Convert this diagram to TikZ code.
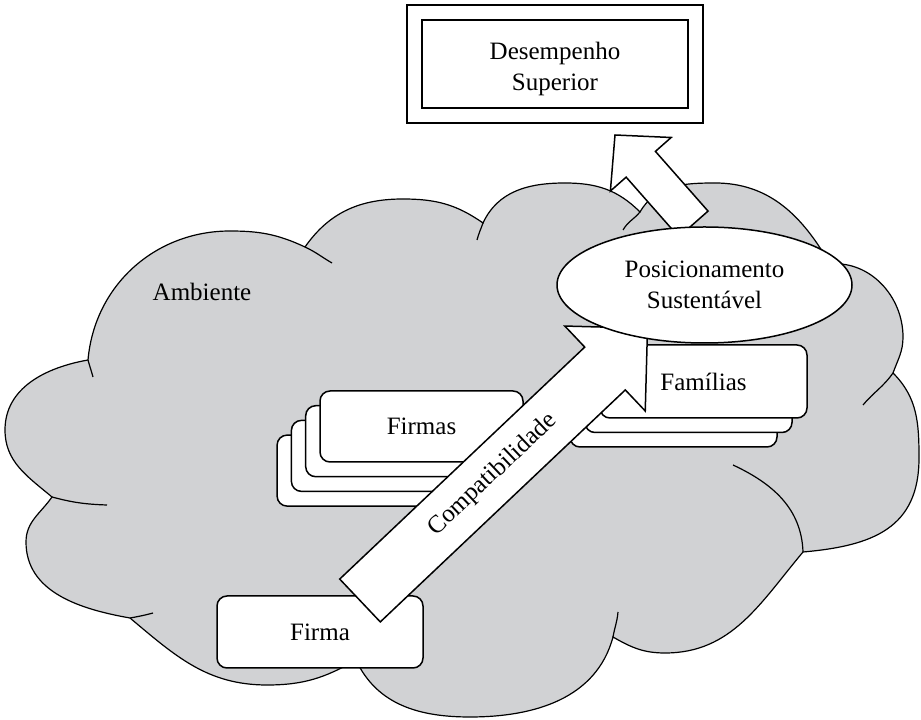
\documentclass[tikz,border=0pt]{standalone}
\usepackage{fontspec}
\setmainfont{Liberation Serif}
\usetikzlibrary{shapes.geometric,calc}

\definecolor{nuvemcinza}{RGB}{209,210,212}

% seta larga: cauda, ponta, meia haste, meia cabeca, comprimento da cabeca
\newcommand{\setalarga}[5]{%
  \coordinate (basecab) at ($(#2)!#5!(#1)$);
  \draw[fill=white, line join=miter] ($(#1)!#3!90:(#2)$) -- ($(basecab)!#3!90:(#2)$)
    -- ($(basecab)!#4!90:(#2)$) -- (#2) -- ($(basecab)!#4!-90:(#2)$)
    -- ($(basecab)!#3!-90:(#2)$) -- ($(#1)!#3!-90:(#2)$) -- cycle;
}

\begin{document}
\begin{tikzpicture}[x=1pt, y=1pt, line width=1.5pt,
    every node/.style={font=\fontsize{25}{31}\selectfont, align=center},
    caixa/.style={draw, fill=white, rounded corners=10pt, inner sep=0pt},
    caixaFirmas/.style={caixa, minimum width=203pt, minimum height=71pt},
    caixaFamilias/.style={caixa, minimum width=207pt, minimum height=73pt},
    caixadupla/.style={draw, double, double distance=13.4pt, line width=1.6pt,
        minimum width=281pt, minimum height=103pt, inner sep=0pt}]
    \useasboundingbox (0,0) rectangle (921,720);

    % nuvem (ambiente)
    \filldraw[fill=nuvemcinza, line width=1.2pt]
      (88,360) to[out=85,in=180] (230,489) to[out=0,in=155] (305,473)
      to[out=55,in=180] (403,521) to[out=0,in=145] (483,497)
      to[out=65,in=180] (565,537) to[out=0,in=135] (640,508)
      to[out=60,in=180] (715,537) to[out=0,in=120] (830,456)
      to[out=5,in=90] (903,383) to[out=-90,in=70] (893,347)
      to[out=-45,in=90] (919,262) to[out=-90,in=5,looseness=1.2] (803,168)
      to[out=-130,in=0] (665,67) to[out=180,in=-30] (613,83)
      to[out=-105,in=0] (470,3) to[out=180,in=-65] (356,60)
      to[out=-150,in=0] (267,35) to[out=180,in=-40] (130,102)
      to[out=170,in=-90] (26,178) to[out=90,in=-125] (52,223)
      to[out=140,in=-90] (5,290) to[out=90,in=190] (88,360) -- cycle;
    \draw[line width=1.2pt]
      (88,360) to[out=-75,in=105] (93,343)
      (305,473) to[out=-25,in=150] (332,457)
      (483,497) to[out=-110,in=75] (477,480)
      (640,508) to[out=-130,in=60] (623,490)
      (893,347) to[out=-125,in=50] (863,315)
      (803,168) to[out=92,in=-25] (733,255)
      (613,83) to[out=80,in=-95] (618,108)
      (130,102) to[out=10,in=195] (153,107)
      (52,223) to[out=-15,in=178] (107,215);
    \node (ambiente) at (202,428) {Ambiente};

    \node[caixadupla] (desempenho) at (555,656) {};
    \node at ([yshift=-5pt]desempenho.center) {Desempenho\\Superior};

    \coordinate (caudaS) at (693.4,496);
    \coordinate (pontaS) at (615,585);
    \setalarga{caudaS}{pontaS}{19.5pt}{40.5pt}{39pt}

    \node[caixaFirmas] (firmas3) at (378.6,249.4) {};
    \node[caixaFirmas] (firmas2) at (392.9,264.1) {};
    \node[caixaFirmas] (firmas1) at (407.2,278.8) {};
    \node[caixaFirmas] (firmas) at (421.5,293.5) {Firmas};

    \node[caixaFamilias] (familias2) at (673.5,309.5) {};
    \node[caixaFamilias] (familias1) at (688.5,324) {};
    \node[caixaFamilias] (familias) at (703.5,338.5) {Famílias};

    \node[caixa, minimum width=206pt, minimum height=72pt] (firma) at (320,88) {Firma};

    \coordinate (caudaC) at (360,119.5);
    \coordinate (pontaC) at (647.5,391.7);
    \setalarga{caudaC}{pontaC}{29.5pt}{58.5pt}{58.5pt}
    \path (caudaC) -- (pontaC) node[pos=0.462, sloped] {Compatibilidade};

    \node[draw, fill=white, ellipse, minimum width=295pt, minimum height=116pt, inner sep=0pt]
        (posicionamento) at (704.5,435) {Posicionamento\\Sustentável};
\end{tikzpicture}
\end{document}
